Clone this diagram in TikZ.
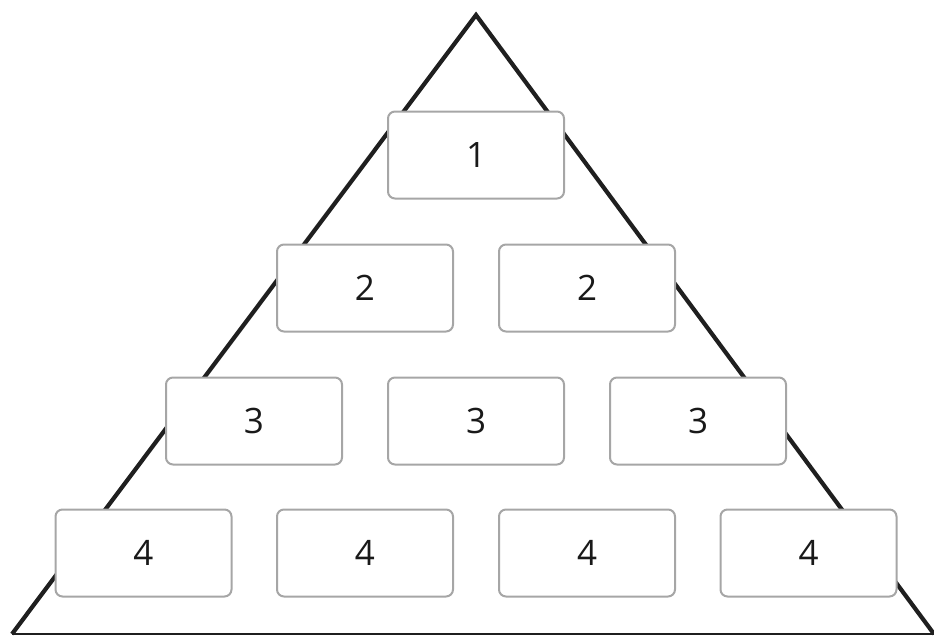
\documentclass[tikz,border=0pt]{standalone}
\usepackage{fontspec}
\setmainfont{Open Sans}
\usetikzlibrary{positioning}

\begin{document}
\begin{tikzpicture}[x=1pt, y=-1pt,
    level box/.style = {draw=black!35, fill=white, line width=2pt,
      rounded corners=7pt, minimum width=176pt, minimum height=87pt,
      font=\fontsize{35}{40}\selectfont, text=black!90},
    side line/.style = {line width=4.2pt, draw=black!88, line join=miter},
  ]
  \useasboundingbox (0,0) rectangle (934,635);
  % pyramid outline
  \coordinate (top) at (476,15);
  \coordinate (left) at (12,634);
  \coordinate (right) at (934,634);
  \draw[side line] (left) -- (top) -- (right);
  \draw[line width=1.3pt, draw=black!88] (left) -- (right);
  % level 1
  \node[level box] (one) at (476,155) {1};
  % level 2
  \node[level box] (twoA) at (365,288) {2};
  \node[level box] (twoB) at (587,288) {2};
  % level 3
  \node[level box] (threeA) at (254,421) {3};
  \node[level box] (threeB) at (476,421) {3};
  \node[level box] (threeC) at (698,421) {3};
  % level 4
  \node[level box] (fourA) at (143.5,553) {4};
  \node[level box] (fourB) at (365,553) {4};
  \node[level box] (fourC) at (587,553) {4};
  \node[level box] (fourD) at (808.5,553) {4};
\end{tikzpicture}
\end{document}
